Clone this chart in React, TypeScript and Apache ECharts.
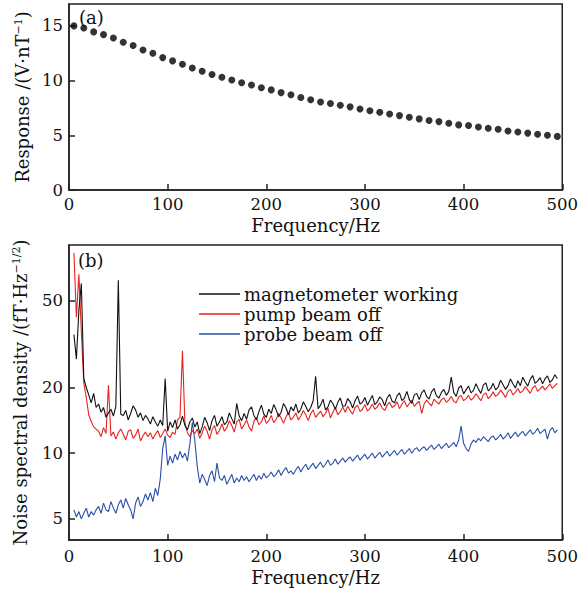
import React, { useEffect, useRef } from "react";
import * as echarts from "echarts";

// ---------- Panel (a): response vs frequency ----------
const respFreq = [
  5, 15, 25, 35, 45, 55, 65, 75, 85, 95,
  105, 115, 125, 135, 145, 155, 165, 175, 185, 195,
  205, 215, 225, 235, 245, 255, 265, 275, 285, 295,
  305, 315, 325, 335, 345, 355, 365, 375, 385, 395,
  405, 415, 425, 435, 445, 455, 465, 475, 485, 495,
];
const respValues = [
  15.0, 14.8, 14.45, 14.2, 13.9, 13.5, 13.2, 12.8, 12.5, 12.1,
  11.8, 11.5, 11.15, 10.85, 10.55, 10.3, 10.05, 9.8, 9.6, 9.35,
  9.15, 8.9, 8.7, 8.45, 8.25, 8.05, 7.9, 7.75, 7.6, 7.4,
  7.25, 7.1, 6.95, 6.8, 6.65, 6.5, 6.35, 6.25, 6.1, 5.95,
  5.9, 5.75, 5.65, 5.55, 5.4, 5.3, 5.2, 5.1, 5.0, 4.9,
];

// ---------- Panel (b): noise spectral density ----------
// sampled every 2.5 Hz from 5 Hz to 495 Hz
const noiseStart = 5;
const noiseStep = 2.5;

const magWorking = [
  35, 27, 45, 60, 22, 20, 18.5, 17, 18.8, 16.2,
  16.8, 15.4, 16.2, 14.6, 15.3, 15.9, 14.8, 16.4, 62, 15.1,
  14.9, 15.7, 14.2, 15.2, 16.5, 15.8, 14.6, 15.3, 14.1, 14.9,
  14.4, 13.6, 14.7, 13.9, 13.3, 14.2, 13.4, 22, 12.6, 13.9,
  13.1, 14.2, 12.9, 13.5, 14.8, 13.4, 12.8, 13.9, 14.5, 13.2,
  13.9, 12.3, 13.2, 14.6, 13.8, 12.7, 14.1, 14.9, 13.3, 13.9,
  14.7, 13.5, 13.9, 15.3, 14.4, 13.6, 16.9, 14.8, 14.1, 15.2,
  14.3, 15.8, 16.3, 14.9, 14.2, 15.5, 16.6, 15.1, 14.6, 15.9,
  15.2, 16.7, 15.8, 14.7, 15.4, 16.9, 16.1, 15.0, 16.3, 15.6,
  16.8, 15.3, 15.9, 17.2, 16.4, 15.5, 16.2, 17.4, 22.5, 16.0,
  16.6, 17.7, 15.8, 16.3, 17.5, 16.9, 15.9, 17.1, 17.9, 16.4,
  16.5, 17.8, 17.2, 16.1, 17.4, 18.3, 16.8, 17.1, 18.0, 16.6,
  17.5, 18.4, 16.7, 17.2, 18.1, 17.6, 16.5, 17.9, 18.6, 17.3,
  17.0, 18.3, 18.9, 17.4, 17.9, 19.2, 17.6, 16.9, 18.5, 18.8,
  17.6, 18.9, 19.5, 18.2, 17.7, 19.1, 19.8, 18.3, 17.9, 19.0,
  19.6, 18.4, 19.2, 22.3, 19.0, 18.2, 19.9, 20.4, 18.7, 19.5,
  20.3, 18.9, 19.4, 20.8, 19.7, 18.8, 20.5, 21.0, 19.3, 19.8,
  20.9, 19.5, 20.1, 21.6, 20.6, 19.6, 20.4, 21.9, 20.8, 19.9,
  21.5, 20.4, 22.3, 21.2, 20.3, 21.8, 22.7, 20.9, 21.4, 22.2,
  20.8, 21.9, 22.6, 21.1, 21.7, 22.9, 22.0,
];

const pumpOff = [
  83, 42, 66, 36, 21, 18, 15, 14, 13.2, 12.9,
  12.6, 11.9, 13.1, 12.3, 20.5, 12.0, 12.5, 11.6, 12.4, 12.9,
  12.2, 11.5, 12.6, 12.8, 11.7, 12.1, 12.9, 11.4, 12.0, 12.5,
  11.9, 12.4, 11.6, 12.2, 12.7, 11.8, 12.3, 12.9, 12.1, 11.8,
  12.5, 12.2, 14.2, 14.6, 29.5, 13.8, 12.4, 11.9, 12.7, 12.3,
  12.9, 11.7, 12.4, 13.3, 12.6, 11.6, 12.8, 13.4, 12.2, 12.7,
  13.6, 12.6, 13.1, 14.1, 13.4, 12.5, 13.9, 14.3, 12.9, 13.5,
  14.2, 13.2, 12.6, 14.0, 14.6, 13.5, 13.9, 14.8, 13.7, 14.1,
  14.9, 13.8, 14.3, 15.2, 14.5, 13.7, 14.7, 15.3, 14.2, 14.6,
  15.3, 14.2, 14.8, 15.7, 15.0, 14.1, 15.2, 15.8, 14.6, 15.1,
  15.6, 14.7, 15.2, 16.1, 14.5, 15.4, 16.2, 15.0, 15.5, 16.3,
  15.4, 16.4, 15.7, 15.1, 16.2, 16.6, 15.5, 15.9, 16.7, 15.6,
  16.0, 16.8, 15.9, 16.3, 17.0, 16.1, 15.7, 16.6, 17.1, 16.2,
  16.5, 17.2, 16.0, 16.8, 17.4, 16.3, 16.9, 17.5, 16.4, 16.9,
  17.3, 15.2, 16.8, 17.5, 16.9, 16.5, 17.7, 17.2, 16.8, 17.6,
  17.9, 17.1, 17.5, 18.2, 17.3, 17.0, 18.1, 18.4, 17.4, 17.8,
  18.4, 17.5, 17.9, 18.7, 18.1, 17.4, 18.5, 18.9, 17.8, 18.3,
  19.1, 18.2, 18.6, 19.5, 18.8, 18.0, 19.2, 19.6, 18.5, 19.0,
  19.8, 18.9, 19.3, 20.2, 19.5, 18.8, 19.9, 20.4, 19.2, 19.7,
  20.3, 19.5, 20.1, 20.8, 19.8, 20.4, 20.9,
];

const probeOff = [
  5.5, 5.1, 5.4, 5.0, 5.3, 5.6, 5.1, 5.4, 5.2, 5.5,
  5.7, 5.3, 5.9, 5.5, 5.4, 6.0, 5.6, 5.3, 5.8, 6.1,
  5.6, 6.2, 5.8, 5.5, 5.0, 5.9, 6.3, 5.7, 6.0, 6.5,
  6.1, 6.6, 6.0, 6.9, 6.4, 7.6, 10.5, 12.0, 8.8, 9.7,
  9.0, 9.9, 9.3, 10.2, 9.5, 10.0, 9.2, 11.0, 13.8, 11.5,
  8.7, 7.3, 8.0, 7.6, 7.1, 7.9, 8.3, 7.4, 9.0, 7.7,
  7.5, 7.9, 7.2, 7.6, 8.0, 7.3, 7.7, 7.4, 7.9, 7.5,
  7.8, 7.4, 7.7, 8.0, 7.5, 7.9, 7.6, 8.1, 7.7, 7.9,
  8.2, 7.8, 8.0, 8.4, 7.9, 8.3, 8.6, 8.1, 8.3, 8.0,
  8.4, 8.7, 8.2, 8.6, 8.9, 8.4, 8.7, 9.0, 8.5, 8.8,
  9.1, 8.6, 8.9, 9.3, 8.8, 9.0, 9.4, 8.9, 9.2, 9.5,
  9.1, 9.4, 9.6, 9.2, 9.5, 9.8, 9.3, 9.6, 9.9, 9.4,
  9.7, 10.0, 9.5, 9.8, 10.1, 9.6, 9.9, 10.2, 9.7, 10.0,
  10.3, 9.8, 10.1, 10.4, 9.9, 10.2, 10.5, 10.0, 10.4, 10.6,
  10.2, 10.5, 10.7, 10.3, 10.6, 10.9, 10.4, 10.7, 11.0, 10.5,
  10.8, 11.1, 10.6, 10.9, 11.2, 10.7, 11.5, 13.3, 11.1, 10.5,
  10.2, 11.0, 11.5, 11.2, 11.7, 11.4, 11.9, 11.6, 11.3, 11.8,
  12.0, 11.5, 11.8, 12.2, 11.6, 11.9, 12.4, 11.7, 12.1, 12.5,
  11.9, 12.3, 12.6, 12.0, 12.4, 12.8, 12.2, 12.5, 13.0, 12.3,
  12.6, 12.9, 11.6, 12.7, 13.1, 12.4, 12.8,
];

const seriesNames = ["magnetometer working", "pump beam off", "probe beam off"];
const seriesColors = ["#111111", "#e8221e", "#2a4fa8"];

const xTicks = [0, 100, 200, 300, 400, 500];
const respTicks = [0, 5, 10, 15];
const noiseTicks = [5, 10, 20, 50];

const FONT = "DejaVu Serif";

function pairs(values: number[]) {
  return values.map((v, i) => [noiseStart + i * noiseStep, v]);
}

export default function App() {
  const ref = useRef<HTMLDivElement>(null);
  useEffect(() => {
    if (!ref.current) return;
    const chart = echarts.init(ref.current, null, { renderer: "svg" });
    const axisLine = { show: true, lineStyle: { color: "#222", width: 1.5 } };
    const tickIn = { show: true, inside: true, length: 6, lineStyle: { color: "#222", width: 1.5 } };
    const label16 = { color: "#111", fontFamily: FONT, fontSize: 16.5 };
    const name18 = { color: "#111", fontFamily: FONT, fontSize: 18 };
    const supRich = {
      sup: { fontFamily: FONT, fontSize: 11, verticalAlign: "top", color: "#111", lineHeight: 18 },
    };
    const option: any = {
      animation: false,
      backgroundColor: "#fff",
      grid: [
        { left: 69, top: 4, width: 495, height: 186, show: true, borderColor: "#222", borderWidth: 1.5, backgroundColor: "transparent" },
        { left: 69, top: 245, width: 495, height: 295, show: true, borderColor: "#222", borderWidth: 1.5, backgroundColor: "transparent" },
      ],
      xAxis: [
        {
          gridIndex: 0, type: "value", min: 0, max: 500,
          axisLine, axisTick: { ...tickIn, customValues: xTicks },
          axisLabel: { ...label16, margin: 6, customValues: xTicks },
          splitLine: { show: false },
          name: "Frequency/Hz", nameLocation: "middle", nameGap: 26, nameTextStyle: name18,
        },
        {
          gridIndex: 1, type: "value", min: 0, max: 500,
          axisLine, axisTick: { ...tickIn, customValues: xTicks },
          axisLabel: { ...label16, margin: 8, customValues: xTicks },
          splitLine: { show: false },
          name: "Frequency/Hz", nameLocation: "middle", nameGap: 28, nameTextStyle: name18,
        },
      ],
      yAxis: [
        {
          gridIndex: 0, type: "value", min: 0, max: 17,
          axisLine, axisTick: { ...tickIn, customValues: respTicks },
          axisLabel: { ...label16, margin: 6, customValues: respTicks },
          splitLine: { show: false },
          name: "Response /(V·nT{sup|−1})", nameLocation: "middle", nameGap: 33,
          nameTextStyle: { ...name18, rich: supRich },
        },
        {
          gridIndex: 1, type: "log", logBase: 10, min: 4, max: 90,
          axisLine, axisTick: { ...tickIn, customValues: noiseTicks },
          axisLabel: { ...label16, margin: 6, customValues: noiseTicks },
          splitLine: { show: false },
          minorTick: { show: false },
          name: "Noise spectral density /(fT·Hz{sup|−1/2})", nameLocation: "middle", nameGap: 40,
          nameTextStyle: { ...name18, rich: supRich },
        },
      ],
      legend: {
        data: seriesNames,
        orient: "vertical",
        left: 199,
        top: 285,
        icon: "rect",
        itemWidth: 41,
        itemHeight: 1.5,
        itemGap: 2,
        textStyle: { color: "#111", fontFamily: FONT, fontSize: 18, lineHeight: 18, padding: [0, 0, 0, -1] },
        padding: 0,
      },
      graphic: [
        { type: "text", left: 79, top: 8, style: { text: "(a)", font: `18px "${FONT}"`, fill: "#111" } },
        { type: "text", left: 78, top: 251, style: { text: "(b)", font: `18px "${FONT}"`, fill: "#111" } },
      ],
      series: [
        {
          type: "scatter", xAxisIndex: 0, yAxisIndex: 0,
          data: respFreq.map((f, i) => [f, respValues[i]]),
          symbol: "circle", symbolSize: 7,
          itemStyle: { color: "#000" },
        },
        ...[magWorking, pumpOff, probeOff].map((vals, k) => ({
          type: "line", name: seriesNames[k], xAxisIndex: 1, yAxisIndex: 1,
          data: pairs(vals), symbol: "none", showSymbol: false,
          lineStyle: { color: seriesColors[k], width: 1.1 },
          itemStyle: { color: seriesColors[k] },
          z: k === 0 ? 3 : k === 1 ? 2 : 1,
        })),
      ],
    };
    chart.setOption(option);
    return () => chart.dispose();
  }, []);
  return (
    <div
      ref={ref}
      style={{ position: "absolute", left: 0, top: 0, width: 581, height: 594 }}
    />
  );
}
